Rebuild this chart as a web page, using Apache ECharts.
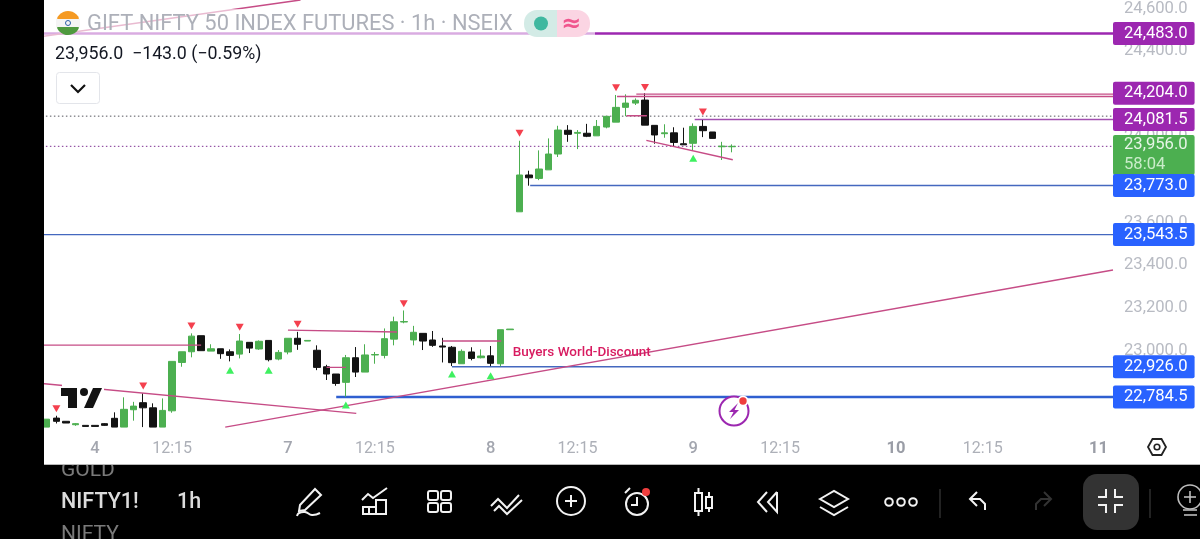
<!DOCTYPE html>
<html><head><meta charset="utf-8">
<script src="https://cdn.jsdelivr.net/npm/echarts@6/dist/echarts.min.js"></script>
<style>html,body{margin:0;padding:0;background:#fff}#c{width:1200px;height:539px}</style>
</head><body><div id="c"></div>
<script>
// [open, close, low, high], hourly bars in order
const ohlc = [
[22644,22681,22644,22681],[22686,22671,22661,22697],[22671,22663,22663,22671],[22655,22660,22650,22663],
[22652,22647,22647,22652],[22652,22647,22647,22652],[22660,22652,22650,22662],[22685,22644,22644,22713],
[22644,22727,22644,22783],[22725,22742,22674,22762],[22758,22734,22644,22802],[22734,22644,22644,22755],
[22644,22722,22644,22778],[22720,22951,22711,22951],[22946,22996,22926,22996],[22996,23069,22970,23082],
[23071,23001,23001,23071],[22999,23010,22999,23031],[23010,22987,22963,23010],[22996,22979,22951,23007],
[22985,23046,22965,23079],[23040,23013,22990,23040],[23009,23045,23005,23049],[23049,22959,22951,23049],
[22962,22993,22956,23004],[22995,23059,22984,23059],[23059,23031,23005,23089],[23046,23049,23046,23049],
[23003,22923,22910,23026],[22926,22892,22864,22935],[22892,22848,22837,22892],[22853,22968,22786,22981],
[22968,22901,22878,23018],[22901,22981,22901,23031],[22981,22983,22940,22995],[22979,23057,22965,23105],
[23055,23136,23026,23160],[23135,23137,23129,23189],[23051,23087,23026,23117],[23082,23046,23004,23082],
[23051,23026,23019,23093],[23023,23018,22946,23061],[23017,22945,22929,23023],[22940,22998,22940,23007],
[22995,22965,22956,23017],[22968,22976,22965,23007],[22977,22942,22929,23023],[22940,23099,22929,23099],
[23099,23102,23099,23102],[23650,23822,23650,23982],[23822,23809,23772,23842],[23806,23850,23798,23937],
[23846,23920,23846,23993],[23920,24032,23906,24052],[24031,24012,23977,24055],[24017,24021,23943,24032],
[24017,24003,23999,24061],[24005,24049,24005,24079],[24046,24096,24040,24096],[24069,24138,24069,24196],
[24138,24158,24097,24199],[24158,24171,24149,24180],[24172,24055,24055,24204],[24054,24009,23968,24054],
[24015,24019,23996,24059],[24019,23974,23954,24045],[23968,23963,23963,24043],[23970,24049,23938,24063],
[24049,24029,23999,24079],[24023,23993,23993,24023],[23954,23957,23892,23977],[23954,23956,23928,23965]
];
const barCount = 111;
const xTickIndex = [5,13,25,34,46,55,67,76,88,97,109];
const xTickLabels = ['4','12:15','7','12:15','8','12:15','9','12:15','10','12:15','11'];
const yTicks = [24600,24400,24200,24000,23800,23600,23400,23200,23000];
// drawn segments: [bar, price, bar, price]
const pinkLines = [
[-0.5,23027,16,23027],[25,23097,36.3,23088],[29,22923,31,22923],[41,23046,47.1,23046],
[60.1,24099,62.2,24099],[62.14,23984,71.1,23893],[-0.5,22848,32.08,22708],[18.5,22644,110.5,23378],
[-0.5,24469,26.3,24640],[59.1,24189,110.5,24189],[61.1,24200,110.5,24200]
];
const purpleLines = [[67.15,24081.5,110.5,24081.5]];
const purpleThick = [[-0.5,24483,110.5,24483]];
const blueThin = [[50.1,23773,110.5,23773],[-0.5,23543.5,110.5,23543.5],[42,22926,110.5,22926]];
const blueThick = [[30,22784.5,110.5,22784.5]];
const dottedGrey = [[-0.5,24097,110.5,24097]];
const dottedPurple = [[-0.5,23956,110.5,23956]];
const sellMarks = [[1,22730],[10,22836],[15,23116],[20,23110],[26,23125],[37,23220],[49,24017],[59,24230],[62,24231],[68,24116]];
const buyMarks = [[19,22910],[23,22910],[31,22747],[42,22892],[46,22884],[67,23900]];
const purpleTags = [24483,24204,24081.5];
const blueTags = [23773,23543.5,22926,22784.5];
const lastPrice = 23956;
const countdown = '58:04';
const noteText = 'Buyers World-Discount';
const notePoint = [48.3,22990];

const fmt = v => v.toLocaleString('en-US',{minimumFractionDigits:1,maximumFractionDigits:1});
const categories = Array.from({length:barCount},(_,i)=>{const k=xTickIndex.indexOf(i);return k<0?'':xTickLabels[k];});

function segSeries(list,color,width,type){
  return list.map(s=>({type:'line',xAxisIndex:1,yAxisIndex:0,symbol:'none',silent:true,z:3,
    data:[[s[0],s[1]],[s[2],s[3]]],lineStyle:{color:color,width:width,type:type||'solid'}}));
}
function tagSeries(list,bg){
  return {type:'scatter',xAxisIndex:1,yAxisIndex:0,symbolSize:0,clip:false,silent:true,z:20,itemStyle:{opacity:1},
    data:list.map(v=>[110.5,v]),
    label:{show:true,position:'right',distance:0,color:'#fff',opacity:1,fontFamily:'Roboto',fontSize:16.6,lineHeight:17,
      backgroundColor:bg,borderRadius:2,padding:[4,7,2,11],formatter:p=>fmt(p.value[1])}};
}
const W='#f2f2f2';
const g=[];
const line=(pts,o)=>g.push(Object.assign({type:'polyline',z:110,shape:{points:pts},style:{stroke:W,lineWidth:2,fill:null}},o||{}));
const poly=(pts,o)=>g.push(Object.assign({type:'polygon',z:110,shape:{points:pts},style:{stroke:W,lineWidth:2,fill:null}},o||{}));
const rect=(x,y,w,h,r,style,z)=>g.push({type:'rect',z:z===undefined?110:z,shape:{x,y,width:w,height:h,r:r||0},style:Object.assign({stroke:W,lineWidth:2,fill:null},style||{})});
const circ=(x,y,r,style,z)=>g.push({type:'circle',z:z===undefined?110:z,shape:{cx:x,cy:y,r},style:Object.assign({stroke:W,lineWidth:2,fill:null},style||{})});
const text=(x,y,t,style,z)=>g.push({type:'text',z:z===undefined?110:z,x,y,style:Object.assign({text:t,fontFamily:'Roboto',verticalAlign:'middle'},style||{})});

// panels (behind and in front of the chart)
rect(0,0,1200,539,0,{fill:'#000',stroke:null},-3);
text(61,471,'GOLD',{fill:'#7a7a7a',fontSize:21},-2);
rect(44,0,1156,464,0,{fill:'#fff',stroke:null},-1);
rect(44,464,1156,1,0,{fill:'#b8b8b8',stroke:null},-1);
rect(0,0,44,539,0,{fill:'#000',stroke:null},100);

// title overlay
rect(44,9,551,28,0,{fill:'rgba(255,255,255,0.62)',stroke:null},50);
text(87,24.5,'GIFT NIFTY 50 INDEX FUTURES · 1h · NSEIX',{fill:'#adb0b9',fontSize:21.9},60);
// flag
g.push({type:'sector',z:60,shape:{cx:68,cy:23,r:12,r0:0,startAngle:Math.PI*1.12,endAngle:Math.PI*1.88},style:{fill:'#f59a23'}});
circ(68,23,8,{fill:'#fff',stroke:null},59);
g.push({type:'sector',z:60,shape:{cx:68,cy:23,r:12,r0:0,startAngle:Math.PI*0.12,endAngle:Math.PI*0.88},style:{fill:'#4f9a3f'}});
rect(56,19,24,8,0,{fill:'#f4f4f4',stroke:null},60);
circ(68,23,2.5,{fill:null,stroke:'#2b5fa8',lineWidth:1},61);
// status badge
g.push({type:'rect',z:60,shape:{x:524,y:10,width:33,height:27,r:[13,0,0,13]},style:{fill:'#d3ebe6'}});
g.push({type:'rect',z:60,shape:{x:557,y:10,width:33,height:27,r:[0,13,13,0]},style:{fill:'#fbd5e3'}});
circ(541,23.5,7,{fill:'#3fb8a0',stroke:null},61);
text(571,25,'≈',{fill:'#f0558d',fontSize:24,align:'center',fontFamily:'DejaVu Sans',fontWeight:'bold'},61);
// price line + chevron
text(55,54.5,'23,956.0  −143.0 (−0.59%)',{fill:'#131722',fontSize:17.8},60);
rect(56.5,72.5,43,31,3,{fill:'#fff',stroke:'#e3e5ea',lineWidth:1},60);
line([[71,85],[78,92],[85,85]],{z:61,style:{stroke:'#111',lineWidth:2.2,fill:null}});

// TradingView mark, on its own white patch
rect(62,380,42,30,0,{fill:'#fff',stroke:null},58);
poly([[61,388],[77,388],[77,408],[68,408],[68,396],[61,396]],{z:60,style:{fill:'#131313'}});
circ(84,392,4,{fill:'#131313',stroke:null},60);
poly([[93,388],[102,388],[93,408],[84,408]],{z:60,style:{fill:'#131313'}});

// lightning badge
circ(734,411,14.5,{fill:'#fff',stroke:'#9c27b0',lineWidth:2},60);
poly([[738,403],[729,412],[733.5,412],[730,419],[739,410],[734.5,410]],{z:61,style:{fill:'#9c27b0'}});
circ(743,401,5.5,{fill:'#fff',stroke:null},62);
circ(743,401,3.7,{fill:'#ef3e3e',stroke:null},63);
// settings hex
poly([[1148,447],[1152.5,439],[1161.5,439],[1166,447],[1161.5,455],[1152.5,455]],{z:60,style:{stroke:'#222',lineWidth:1.8,fill:null}});
circ(1157,447,2.8,{stroke:'#222',lineWidth:1.6},60);

// toolbar
text(61,503,'NIFTY1!',{fill:'#dcdcdc',fontSize:21.5,fontWeight:500});
text(177,503,'1h',{fill:'#dcdcdc',fontSize:21.5,fontWeight:500});
text(61,535,'NIFTY',{fill:'#7a7a7a',fontSize:21});
// pencil
poly([[300,505],[315,489],[321,495],[305,510],[299,511]]);
line([[297,516],[299,513],[305,512],[312,515],[320,513]],{shape:{points:[[297,516],[299,513],[305,512],[312,515],[320,513]],smooth:0.5}});
// indicators
line([[362,500],[368,494],[373,498],[387,488]]);
rect(363,507,6,7);rect(376,500,10,14);rect(369,507,7,7);
// grid
rect(428,491,10,9,2);rect(441,491,10,9,2);rect(428,503,10,9,2);rect(441,503,10,9,2);
// multi
line([[491,506],[498,499],[507,508],[519,495]]);
line([[494,511],[499,506],[507,514],[522,500]]);
// plus
circ(571,501,14);line([[565,501],[577,501]]);line([[571,495],[571,507]]);
// alarm
circ(637,504,11);line([[637,497],[637,505],[631,505]]);line([[625,493],[630,488]]);
circ(646,492,4,{fill:'#ef3e3e',stroke:null});
// candles
rect(695,493,7,18);line([[698.5,488],[698.5,493]]);line([[698.5,511],[698.5,516]]);
rect(706,497,6,11);line([[709,492],[709,497]]);line([[709,508],[709,512]]);
// rewind
line([[767,492],[758,502],[767,512]]);line([[777,492],[768,502],[777,512],[777,492]]);
// layers
poly([[820,499],[834,491],[848,499],[834,507]]);line([[820,507],[834,515],[848,507]]);
// more
circ(889,502,3.8);circ(901,502,3.8);circ(913,502,3.8);
line([[940,489],[940,518]],{style:{stroke:'#444',lineWidth:1,fill:null}});
// undo / redo
line([[977,492],[970,499],[977,506]]);line([[970,499],[980,499],[985,504],[985,510]]);
line([[1044,492],[1051,499],[1044,506]],{style:{stroke:'#333',lineWidth:2,fill:null}});
line([[1051,499],[1041,499],[1036,504],[1036,510]],{style:{stroke:'#333',lineWidth:2,fill:null}});
// fullscreen
rect(1083,474,56,56,14,{fill:'#333',stroke:null},105);
line([[1098,497],[1106,497],[1106,489]]);line([[1115,489],[1115,497],[1123,497]]);
line([[1098,505],[1106,505],[1106,513]]);line([[1123,505],[1115,505],[1115,513]]);
line([[1150,489],[1150,518]],{style:{stroke:'#444',lineWidth:1,fill:null}});
// bulb
circ(1190,497,12,{stroke:'#bdbdbd',lineWidth:1.6});
line([[1184,497],[1196,497]],{style:{stroke:'#bdbdbd',lineWidth:1.6,fill:null}});
line([[1190,491],[1190,503]],{style:{stroke:'#bdbdbd',lineWidth:1.6,fill:null}});
line([[1183,510],[1197,510]],{style:{stroke:'#bdbdbd',lineWidth:1.6,fill:null}});
line([[1184,515],[1197,515]],{style:{stroke:'#bdbdbd',lineWidth:1.6,fill:null}});

const pink='#c64c86',purple='#9c27b0',blueA='#4468bf',blueB='#2f5fd0';
const option={
  animation:false,
  backgroundColor:'transparent',
  grid:{left:41.9,right:87,top:0,bottom:75,show:false,containLabel:false},
  xAxis:[
    {type:'category',data:categories,boundaryGap:true,axisLine:{show:false},axisTick:{show:false},splitLine:{show:false},
     axisLabel:{show:true,interval:0,inside:true,margin:7,hideOverlap:false,fontFamily:'Roboto',fontSize:16,
       formatter:v=>v===''?'':(v.includes(':')?'{t|'+v+'}':(Number(v)>=10?'{f|'+v+'}':'{d|'+v+'}')),
       rich:{t:{color:'#adb0b8',fontSize:16,fontFamily:'Roboto',fontWeight:400},
             d:{color:'#a3a6af',fontSize:16.5,fontFamily:'Roboto',fontWeight:500},
             f:{color:'#9a9da6',fontSize:16.5,fontFamily:'Roboto',fontWeight:700}}}},
    {type:'value',show:false,min:-0.5,max:110.5,splitLine:{show:false}}
  ],
  yAxis:[{type:'value',position:'right',min:22471.5,max:24639.5,scale:true,
    axisLine:{show:false},axisTick:{show:false},splitLine:{show:false},
    axisLabel:{show:true,customValues:yTicks,margin:11,color:'#b8bbc3',fontFamily:'Roboto',fontSize:16.6,padding:[0,0,3,0],formatter:v=>fmt(v)}}],
  graphic:{elements:g},
  series:[
    ...segSeries(dottedGrey,'#55555c',1,[1.5,2.5]),
    ...segSeries(dottedPurple,'#7d2f91',1,[1.5,2.5]),
    ...segSeries(blueThin,blueA,1.3),
    ...segSeries(blueThick,blueB,2.6),
    ...segSeries(purpleThick,purple,2.6),
    ...segSeries(purpleLines,'#a24fb0',1.4),
    {type:'candlestick',xAxisIndex:0,yAxisIndex:0,data:ohlc,barWidth:7,z:4,silent:true,
     itemStyle:{color:'#4caf50',color0:'#131313',borderColor:'#4caf50',borderColor0:'#131313',borderWidth:1}},
    ...segSeries(pinkLines,pink,1.4).map(s=>(s.z=5,s)),
    {type:'scatter',xAxisIndex:1,yAxisIndex:0,silent:true,z:6,symbol:'triangle',symbolRotate:180,symbolSize:[8,7],data:sellMarks,itemStyle:{color:'#f4404e',opacity:1}},
    {type:'scatter',xAxisIndex:1,yAxisIndex:0,silent:true,z:6,symbol:'triangle',symbolSize:[8,7],data:buyMarks,itemStyle:{color:'#3ff060',opacity:1}},
    {type:'scatter',xAxisIndex:1,yAxisIndex:0,silent:true,z:6,symbolSize:0,itemStyle:{opacity:1},data:[notePoint],
     label:{show:true,position:'right',distance:0,formatter:noteText,color:'#d81b60',fontFamily:'Roboto',fontWeight:500,fontSize:13.5}},
    {type:'scatter',xAxisIndex:1,yAxisIndex:0,symbolSize:0,clip:false,silent:true,z:19,itemStyle:{opacity:1},data:[[110.5,lastPrice]],
     label:{show:true,position:'right',distance:0,offset:[0,8.7],backgroundColor:'#4caf50',borderRadius:2,padding:[0,7,0,11],
       formatter:'{a|'+fmt(lastPrice)+'}\n{b|'+countdown+'}',
       rich:{a:{color:'#e6f5e6',fontFamily:'Roboto',fontSize:16.6,lineHeight:20},b:{color:'#c9ecc9',fontFamily:'Roboto',fontSize:16.6,lineHeight:20}}}},
    tagSeries(purpleTags,purple),
    tagSeries(blueTags,'#2962ff')
  ]
};
echarts.init(document.getElementById('c'),null,{renderer:'canvas'}).setOption(option);
</script>
</body></html>
